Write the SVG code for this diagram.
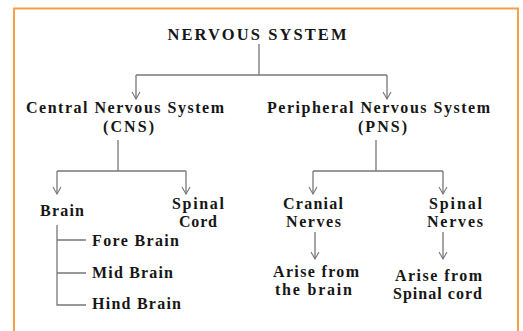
<svg xmlns="http://www.w3.org/2000/svg" width="523" height="331" viewBox="0 0 523 331">
<defs>
<marker id="arr" viewBox="0 0 10 10" refX="9" refY="5" markerWidth="10" markerHeight="10" markerUnits="userSpaceOnUse" orient="auto">
<path d="M2,1 L9,5 L2,9" fill="none" stroke="#777" stroke-width="1.1"/>
</marker>
<style>
text{font-family:"Liberation Serif","Times New Roman",serif;font-weight:bold;font-size:16px;fill:#161616;text-anchor:middle}
.t{font-size:16.5px}
.l{text-anchor:start}
.c line,.c path{stroke:#777;stroke-width:1.3;fill:none}
</style>
</defs>
<rect x="0" y="0" width="523" height="331" fill="#fff"/>
<rect x="14" y="8.5" width="504" height="330" fill="none" stroke="#F7A04A" stroke-width="2"/>
<g class="c" id="connectors">
<line x1="259" y1="44" x2="259" y2="75"/>
<path d="M136,75 H387"/>
<line x1="136" y1="75" x2="136" y2="99" marker-end="url(#arr)"/>
<line x1="387" y1="75" x2="387" y2="99" marker-end="url(#arr)"/>
<line x1="118" y1="140" x2="118" y2="171"/>
<path d="M57,171 H186"/>
<line x1="57" y1="171" x2="57" y2="194" marker-end="url(#arr)"/>
<line x1="186" y1="171" x2="186" y2="194" marker-end="url(#arr)"/>
<line x1="376" y1="140" x2="376" y2="171"/>
<path d="M313,171 H443"/>
<line x1="313" y1="171" x2="313" y2="194" marker-end="url(#arr)"/>
<line x1="443" y1="171" x2="443" y2="194" marker-end="url(#arr)"/>
<path d="M57,225 V305 H86 M57,240 H86 M57,273 H86"/>
<line x1="315" y1="232" x2="315" y2="259" marker-end="url(#arr)"/>
<line x1="443" y1="232" x2="443" y2="259" marker-end="url(#arr)"/>
</g>
<g id="nervous-system"><text class="t" x="257" y="40" textLength="179" lengthAdjust="spacing">NERVOUS SYSTEM</text></g>
<g id="cns">
<text x="125" y="113" textLength="198" lengthAdjust="spacing">Central Nervous System</text>
<text x="128.5" y="132" textLength="51" lengthAdjust="spacing">(CNS)</text>
</g>
<g id="pns">
<text x="378.5" y="113" textLength="223" lengthAdjust="spacing">Peripheral Nervous System</text>
<text x="382.5" y="132" textLength="49" lengthAdjust="spacing">(PNS)</text>
</g>
<g id="brain"><text x="62" y="216" textLength="44" lengthAdjust="spacing">Brain</text></g>
<g id="spinal-cord">
<text x="198" y="209" textLength="52" lengthAdjust="spacing">Spinal</text>
<text x="198" y="227" textLength="38" lengthAdjust="spacing">Cord</text>
</g>
<g id="fore-brain"><text class="l" x="92" y="246" textLength="87" lengthAdjust="spacing">Fore Brain</text></g>
<g id="mid-brain"><text class="l" x="92" y="278" textLength="81" lengthAdjust="spacing">Mid Brain</text></g>
<g id="hind-brain"><text class="l" x="92" y="309" textLength="89" lengthAdjust="spacing">Hind Brain</text></g>
<g id="cranial-nerves">
<text x="313" y="209" textLength="60" lengthAdjust="spacing">Cranial</text>
<text x="313.5" y="227" textLength="55" lengthAdjust="spacing">Nerves</text>
</g>
<g id="spinal-nerves">
<text x="455.5" y="209" textLength="53" lengthAdjust="spacing">Spinal</text>
<text x="455" y="227" textLength="56" lengthAdjust="spacing">Nerves</text>
</g>
<g id="arise-brain">
<text x="316" y="277" textLength="86" lengthAdjust="spacing">Arise from</text>
<text x="313.5" y="295" textLength="77" lengthAdjust="spacing">the brain</text>
</g>
<g id="arise-spinal">
<text x="438.5" y="281" textLength="87" lengthAdjust="spacing">Arise from</text>
<text x="437.5" y="299" textLength="89" lengthAdjust="spacing">Spinal cord</text>
</g>
</svg>
